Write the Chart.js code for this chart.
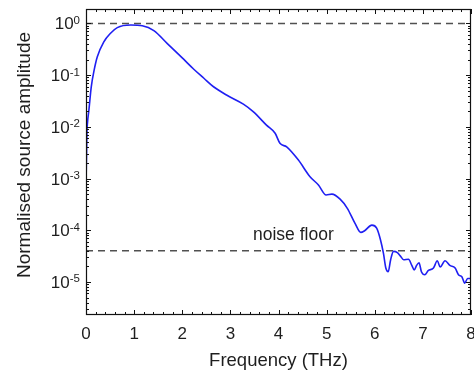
<!DOCTYPE html>
<html>
<head>
<meta charset="utf-8">
<script src="https://cdn.jsdelivr.net/npm/chart.js@4.4.0/dist/chart.umd.min.js"></script>
<style>
  html, body { margin: 0; padding: 0; background: #fff; }
</style>
</head>
<body>
<canvas id="spectrum" width="474" height="376"></canvas>
<script>
// Frequency (THz) and normalised amplitude
const freq = [0, 0.01, 0.02, 0.03, 0.06, 0.11, 0.17, 0.235, 0.37, 0.51,
    0.65, 0.93, 1.17, 1.41, 1.69, 2.0, 2.24, 2.45, 2.65, 2.92,
    3.27, 3.48, 3.75, 3.93, 4.03, 4.17, 4.41, 4.65, 4.83, 4.99,
    5.11, 5.28, 5.43, 5.59, 5.71, 5.79, 5.94, 6.04, 6.12, 6.18,
    6.23, 6.28, 6.33, 6.39, 6.47, 6.53, 6.60, 6.70, 6.77, 6.82,
    6.87, 6.92, 6.97, 7.04, 7.11, 7.22, 7.30, 7.36, 7.46, 7.56,
    7.67, 7.74, 7.81, 7.87, 7.93, 8.0];
const amplitude = [7.6e-4, 2.5e-3, 8e-3, 1.17e-2, 2.1e-2, 6.0e-2, 0.126, 0.226, 0.44, 0.646,
    0.83, 0.93, 0.9, 0.724, 0.407, 0.215, 0.13, 8.7e-2, 5.96e-2, 4.12e-2,
    2.75e-2, 1.95e-2, 1.08e-2, 7.5e-3, 4.8e-3, 4.1e-3, 2.3e-3, 1.1e-3, 7.5e-4, 4.8e-4,
    5.0e-4, 4.0e-4, 2.66e-4, 1.36e-4, 9.1e-5, 9.8e-5, 1.26e-4, 1.1e-4, 6.5e-5, 3.6e-5,
    1.86e-5, 1.58e-5, 2.7e-5, 3.9e-5, 3.7e-5, 3.2e-5, 2.7e-5, 2.75e-5, 2.1e-5, 1.7e-5,
    2.1e-5, 2.35e-5, 1.58e-5, 1.38e-5, 1.66e-5, 1.86e-5, 2.57e-5, 1.95e-5, 2.57e-5, 2.1e-5,
    1.86e-5, 1.38e-5, 1.26e-5, 9.5e-6, 1.17e-5, 1.17e-5];

// reference levels (dashed)
const refLevel = 1;
const noiseFloor = 4e-5;
const noiseLabel = 'noise floor';

// axis ranges and tick labels
const xMin = 0, xMax = 8;
const yMin = 2.3e-6, yMax = 1.9;
const yExponents = [0, -1, -2, -3, -4, -5];

const FONT = '"Liberation Sans", Arial, sans-serif';
const TEXT = '#1e1e1e';

const points = freq.map((f, i) => ({ x: f, y: amplitude[i] }));

// Function to draw the frame, inward ticks and the y labels
const frameTicks = {
    id: 'frameTicks',
    afterDraw(chart) {
        const ctx = chart.ctx;
        const a = chart.chartArea;
        const xs = chart.scales.x;
        const ys = chart.scales.y;
        ctx.save();
        ctx.strokeStyle = '#111';
        ctx.lineWidth = 1.2;
        ctx.strokeRect(Math.round(a.left) + 0.5, Math.round(a.top) + 0.5,
            Math.round(a.right - a.left) - 1, Math.round(a.bottom - a.top) - 1);

        ctx.lineWidth = 1;
        ctx.beginPath();
        // x ticks every 0.2, major every 1
        for (let i = 0; i <= 40; i++) {
            const px = Math.round(xs.getPixelForValue(i / 5)) + 0.5;
            const len = i % 5 === 0 ? 5 : 3;
            ctx.moveTo(px, a.bottom);
            ctx.lineTo(px, a.bottom - len);
            ctx.moveTo(px, a.top);
            ctx.lineTo(px, a.top + len);
        }
        // log y ticks
        for (let e = -6; e <= 0; e++) {
            for (let m = 1; m <= 9; m++) {
                const v = m * Math.pow(10, e);
                if (v < yMin || v > yMax) continue;
                const py = Math.round(ys.getPixelForValue(v)) + 0.5;
                const len = m === 1 ? 5 : 3;
                ctx.moveTo(a.left, py);
                ctx.lineTo(a.left + len, py);
                ctx.moveTo(a.right, py);
                ctx.lineTo(a.right - len, py);
            }
        }
        ctx.stroke();

        // y tick labels 10^n
        ctx.fillStyle = TEXT;
        ctx.textBaseline = 'alphabetic';
        yExponents.forEach(e => {
            const py = ys.getPixelForValue(Math.pow(10, e));
            const exp = e === 0 ? '0' : '-' + Math.abs(e);
            ctx.font = '11.5px ' + FONT;
            const ew = ctx.measureText(exp).width;
            ctx.textAlign = 'left';
            const right = a.left - 6;
            ctx.fillText(exp, right - ew, py + 0.5);
            ctx.font = '17px ' + FONT;
            ctx.textAlign = 'right';
            ctx.fillText('10', right - ew, py + 6);
        });

        // y axis title
        ctx.save();
        ctx.translate(25, 155);
        ctx.rotate(-Math.PI / 2);
        ctx.font = '19px ' + FONT;
        ctx.textAlign = 'center';
        ctx.textBaseline = 'middle';
        ctx.fillText('Normalised source amplitude', 0, 0);
        ctx.restore();

        // noise floor label
        ctx.font = '17.5px ' + FONT;
        ctx.textAlign = 'left';
        ctx.fillText(noiseLabel, xs.getPixelForValue(3.47), ys.getPixelForValue(6.5e-5));
        ctx.restore();
    }
};

const ctx = document.getElementById('spectrum').getContext('2d');
new Chart(ctx, {
    type: 'line',
    data: {
        datasets: [{
            label: 'Source amplitude',
            data: points,
            borderColor: '#1f1ff2',
            borderWidth: 1.6,
            pointRadius: 0,
            cubicInterpolationMode: 'monotone',
            fill: false
        }, {
            label: 'Peak',
            data: [{ x: xMin, y: refLevel }, { x: xMax, y: refLevel }],
            borderColor: '#505050',
            borderWidth: 1.5,
            borderDash: [7, 5],
            pointRadius: 0
        }, {
            label: 'Noise floor',
            data: [{ x: xMin, y: noiseFloor }, { x: xMax, y: noiseFloor }],
            borderColor: '#505050',
            borderWidth: 1.5,
            borderDash: [7, 5],
            pointRadius: 0
        }]
    },
    options: {
        responsive: false,
        animation: false,
        layout: { padding: { top: 9, right: 3, left: 0, bottom: 0 } },
        plugins: { legend: { display: false }, tooltip: { enabled: false } },
        scales: {
            x: {
                type: 'linear',
                min: xMin,
                max: xMax,
                grid: { display: false },
                border: { display: false },
                ticks: {
                    stepSize: 1,
                    color: TEXT,
                    padding: 1,
                    font: { family: FONT, size: 17 }
                },
                title: {
                    display: true,
                    text: 'Frequency (THz)',
                    color: TEXT,
                    padding: { top: 0, bottom: 4 },
                    font: { family: FONT, size: 18.5 }
                },
                afterFit(scale) {
                    scale.height = 61;
                    scale.paddingLeft = 0;
                    scale.paddingRight = 0;
                }
            },
            y: {
                type: 'logarithmic',
                min: yMin,
                max: yMax,
                grid: { display: false },
                border: { display: false },
                ticks: { display: false },
                afterFit(scale) {
                    scale.width = 86;
                }
            }
        }
    },
    plugins: [frameTicks]
});
</script>
</body>
</html>
